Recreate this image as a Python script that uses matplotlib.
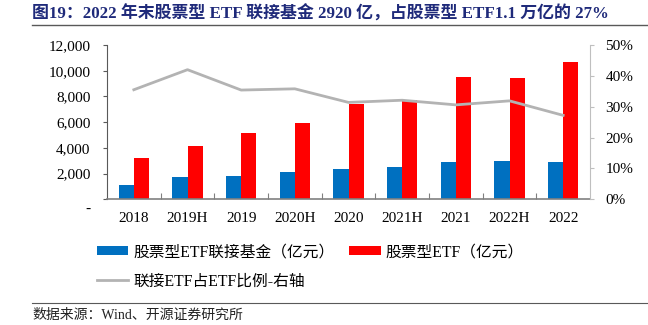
import matplotlib
matplotlib.use("Agg")
import matplotlib.pyplot as plt
import numpy as np
from matplotlib.transforms import ScaledTranslation
from matplotlib.ticker import FixedLocator

plt.rcParams['font.family'] = ['Liberation Serif', 'Noto Sans CJK SC', 'DejaVu Sans']

categories = ["2018", "2019H", "2019", "2020H", "2020", "2021H", "2021", "2022H", "2022"]
feeder_funds = [1110, 1740, 1820, 2100, 2340, 2490, 2880, 3010, 2920]
equity_etf = [3190, 4150, 5170, 5920, 7450, 7740, 9480, 9430, 10700]
ratio_pct = [35.5, 42.0, 35.4, 35.8, 31.4, 32.1, 30.6, 31.9, 27.2]

left_ticks = [0, 2000, 4000, 6000, 8000, 10000, 12000]
left_labels = ["-", "2,000", "4,000", "6,000", "8,000", "10,000", "12,000"]
right_ticks = [0, 10, 20, 30, 40, 50]
right_labels = ["0%", "10%", "20%", "30%", "40%", "50%"]

title = "图19：2022 年末股票型 ETF 联接基金 2920 亿，占股票型 ETF1.1 万亿的 27%"
source = "数据来源：Wind、开源证券研究所"
lbl_blue = "股票型ETF联接基金（亿元）"
lbl_red = "股票型ETF（亿元）"
lbl_line = "联接ETF占ETF比例-右轴"

W, H = 648, 325
fig = plt.figure(figsize=(W / 100, H / 100), dpi=100)
ax = fig.add_axes([107 / W, 1 - 199.3 / H, (590 - 107) / W, (199.3 - 45) / H])

x = np.arange(len(categories))
bw = 0.28
b1 = ax.bar(x - bw / 2, feeder_funds, width=bw, color="#0070C0", label=lbl_blue, zorder=2)
b2 = ax.bar(x + bw / 2, equity_etf, width=bw, color="#FF0000", label=lbl_red, zorder=2)
ax.set_xlim(-0.5, len(categories) - 0.5)
ax.set_ylim(0, 12000)

ax2 = ax.twinx()
ln, = ax2.plot(x, ratio_pct, color="#B3B3B3", lw=2.0, label=lbl_line, zorder=3)
ax2.set_ylim(0, 50)

for a in (ax, ax2):
    a.spines['top'].set_visible(False)
ax.spines['right'].set_visible(False)
ax2.spines['left'].set_visible(False)
ax2.spines['bottom'].set_visible(False)
ax.spines['left'].set_color("#595959")
ax.spines['bottom'].set_color("#808080")
ax.spines['bottom'].set_linewidth(1.2)
ax2.spines['right'].set_color("#BFBFBF")

ax.set_yticks(left_ticks)
ax.set_yticklabels(left_labels)
ax.tick_params(axis='y', direction='out', length=3, width=0.8, color="#595959", pad=9, labelsize=11)
ax2.set_yticks(right_ticks)
ax2.set_yticklabels(right_labels)
ax2.tick_params(axis='y', direction='out', length=3, width=0.8, color="#BFBFBF", pad=8, labelsize=11)

ax.set_xticks(x)
ax.set_xticklabels(categories)
ax.tick_params(axis='x', which='major', length=0, pad=9, labelsize=11)
ax.xaxis.set_minor_locator(FixedLocator(np.arange(0.5, len(categories) - 1, 1.0)))
ax.tick_params(axis='x', which='minor', direction='in', length=4, width=0.8, color="#808080")

lab0 = ax.get_yticklabels()[0]
lab0.set_transform(lab0.get_transform() + ScaledTranslation(0, -9 / 100, fig.dpi_scale_trans))

fig.legend([b1, ln, b2], [lbl_blue, lbl_line, lbl_red], loc='upper left',
           bbox_to_anchor=(97 / W, 1 - 244 / H), ncol=2, frameon=False, fontsize=11.3,
           handlelength=2.0, handleheight=0.55, handletextpad=0.3, columnspacing=0.95,
           labelspacing=0.85, borderpad=0, borderaxespad=0)

fig.text(32 / W, 1 - 13.5 / H, title, fontsize=12.2, fontweight='bold', color="#1F2A7A",
         va='center', ha='left')
fig.add_artist(plt.Line2D([32 / W, 1.0], [1 - 25 / H, 1 - 25 / H], color="#595959", lw=1.0))
fig.add_artist(plt.Line2D([32 / W, 1.0], [1 - 303 / H, 1 - 303 / H], color="#595959", lw=0.8))
fig.text(32 / W, 1 - 315 / H, source, fontsize=10, color="#222222", va='center', ha='left')

fig.savefig("out.png", dpi=100)
